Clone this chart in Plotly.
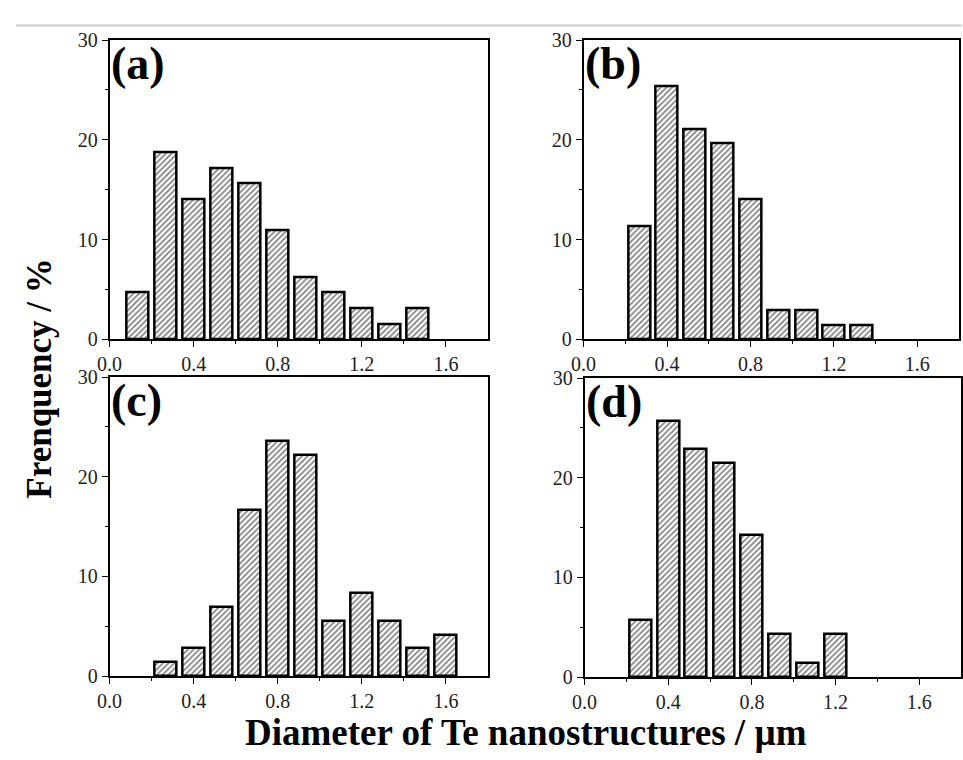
import plotly.graph_objects as go

# Bin centres (µm) and frequencies (%)
a_x = [0.133, 0.267, 0.400, 0.533, 0.667, 0.800, 0.933, 1.067, 1.200, 1.333, 1.467]
a_y = [4.69, 18.75, 14.06, 17.19, 15.63, 10.94, 6.25, 4.69, 3.13, 1.56, 3.13]

b_x = [0.267, 0.400, 0.533, 0.667, 0.800, 0.933, 1.067, 1.200, 1.333]
b_y = [11.3, 25.4, 21.1, 19.7, 14.1, 2.9, 2.9, 1.45, 1.45]

c_x = [0.267, 0.400, 0.533, 0.667, 0.800, 0.933, 1.067, 1.200, 1.333, 1.467, 1.600]
c_y = [1.39, 2.78, 6.94, 16.67, 23.61, 22.22, 5.56, 8.33, 5.56, 2.78, 4.17]

d_x = [0.267, 0.400, 0.533, 0.667, 0.800, 0.933, 1.067, 1.200]
d_y = [5.71, 25.71, 22.86, 21.43, 14.29, 4.29, 1.43, 4.29]

panel_labels = ["(a)", "(b)", "(c)", "(d)"]
x_tickvals = [0.0, 0.4, 0.8, 1.2, 1.6]
x_ticktext = ["0.0", "0.4", "0.8", "1.2", "1.6"]
y_tickvals = [0, 10, 20, 30]
y_ticktext = ["0", "10", "20", "30"]

x_title = "Diameter of Te nanostructures / µm"
y_title = "Frenquency / %"

W, H = 963, 760
SERIF = "Liberation Serif, Times New Roman, serif"


def px(x):
    return x / W


def py(y):
    return 1 - y / H


# panel pixel boxes: (left, right, top, bottom)
boxes = [(98, 482, 30, 338), (579, 960, 30, 338), (98, 482, 377, 685), (580, 962, 378, 686)]

fig = go.Figure()
series = [(a_x, a_y), (b_x, b_y), (c_x, c_y), (d_x, d_y)]

for i, ((xs, ys), (l, r, t, b)) in enumerate(zip(series, boxes)):
    n = "" if i == 0 else str(i + 1)
    fig.add_trace(go.Bar(
        x=xs, y=ys, width=0.105,
        xaxis="x" + n, yaxis="y" + n,
        marker=dict(color="white",
                    line=dict(color="black", width=2.5),
                    pattern=dict(shape="/", fgcolor="black", bgcolor="white", size=4, solidity=0.42)),
        showlegend=False, hoverinfo="x+y",
    ))
    xd = [px(l), min(1.0, px(r))]
    yd = [py(b), py(t)]
    fig.update_layout(**{
        "xaxis" + n: dict(domain=xd, anchor="y" + n, range=[0, 1.8],
                          tickvals=x_tickvals, ticktext=x_ticktext,
                          ticks="outside", ticklen=6, tickwidth=1.2, tickcolor="black",
                          minor=dict(tickvals=[0.2, 0.6, 1.0, 1.4], ticks="outside", ticklen=3, tickcolor="black", tickwidth=1),
                          showline=True, linecolor="black", linewidth=1.5, mirror=True,
                          showgrid=False, zeroline=False,
                          tickfont=dict(family=SERIF, size=20, color="#222")),
        "yaxis" + n: dict(domain=yd, anchor="x" + n, range=[0, 30],
                          tickvals=y_tickvals, ticktext=y_ticktext,
                          ticks="outside", ticklen=6, tickwidth=1.2, tickcolor="black",
                          minor=dict(tickvals=[5, 15, 25], ticks="outside", ticklen=3, tickcolor="black", tickwidth=1),
                          showline=True, linecolor="black", linewidth=1.5, mirror=True,
                          showgrid=False, zeroline=False,
                          tickfont=dict(family=SERIF, size=20, color="#222")),
    })
    fig.add_annotation(text="<b>" + panel_labels[i] + "</b>", xref="paper", yref="paper",
                       x=px(l - 1), y=py(t - 4), xanchor="left", yanchor="top",
                       showarrow=False, font=dict(family=SERIF, size=46, color="black"))

fig.add_annotation(text="<b>" + y_title + "</b>", xref="paper", yref="paper",
                   x=px(26), y=py(379), textangle=-90, showarrow=False,
                   xanchor="center", yanchor="middle",
                   font=dict(family=SERIF, size=35, color="black"))
fig.add_annotation(text="<b>" + x_title + "</b>", xref="paper", yref="paper",
                   x=px(521), y=py(743), showarrow=False,
                   xanchor="center", yanchor="middle",
                   font=dict(family=SERIF, size=37, color="black"))

fig.add_shape(type="line", xref="paper", yref="paper", x0=px(3), x1=1, y0=py(15), y1=py(15),
              line=dict(color="#cccccc", width=2))

fig.update_layout(width=W, height=H, margin=dict(l=0, r=0, t=0, b=0),
                  paper_bgcolor="white", plot_bgcolor="white", bargap=0)

fig.write_html("out.html")
